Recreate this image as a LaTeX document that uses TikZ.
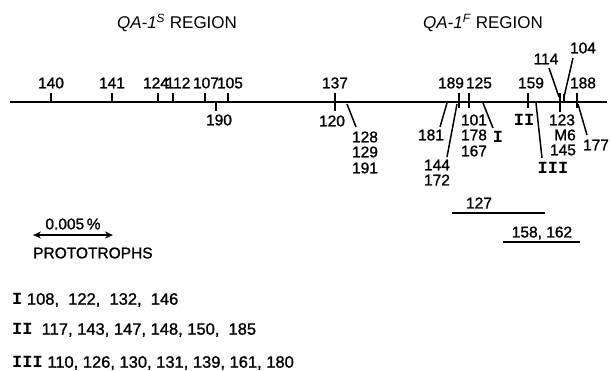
\documentclass[tikz,border=0pt]{standalone}
\usepackage{fontspec}
\setmainfont{Liberation Sans}
\newfontfamily\lblfont{Liberation Sans}[FakeBold=1.2]
\newfontfamily\romfont{Liberation Mono}
\usetikzlibrary{arrows.meta}
\newcommand{\rn}[1]{{\romfont\bfseries\fontsize{17}{17}\selectfont #1}}
\begin{document}
\begin{tikzpicture}[x=1pt,y=-1pt,
  lbl/.style={font=\lblfont\fontsize{15.5}{15.5}\selectfont, inner sep=0pt},
  lst/.style={font=\lblfont\fontsize{16.5}{16.5}\selectfont, inner sep=0pt, anchor=west},
  ttl/.style={font=\fontsize{17}{17}\selectfont, inner sep=0pt},
  axisline/.style={line width=2.8pt},
  tickmark/.style={line width=2.8pt},
  slant/.style={line width=1.5pt},
  bar/.style={line width=1.5pt}]
\useasboundingbox (0,0) rectangle (610,370);
% titles
\node[ttl] (t1) at (177,23) {\textit{QA-1}\textsuperscript{\textit{S}} REGION};
\node[ttl] (t2) at (483,23) {\textit{QA-1}\textsuperscript{\textit{F}} REGION};
% axis
\coordinate (L) at (10,102);
\coordinate (R) at (607,102);
\draw[axisline] (L) -- (R);
% ticks above with labels
\foreach \x/\n/\lx in {51/140/51,112/141/112,158/124/156,173/112/178,205/107/206,228/105/230,335/137/335,459/189/451,469/125/479,528/159/531,577/188/583} {
  \coordinate (u\n) at (\x,93);
  \coordinate (a\n) at (\x,102);
  \draw[tickmark] (u\n) -- (a\n);
  \node[lbl] (l\n) at (\lx,83) {\n};
}
% ticks below
\coordinate (b190a) at (216,102); \coordinate (b190b) at (216,111);
\draw[tickmark] (b190a) -- (b190b);
\node[lbl] (l190) at (219,120) {190};
\coordinate (b137) at (335,111);
\draw[tickmark] (a137) -- (b137);
\node[lbl] (l120) at (332,121) {120};
\coordinate (b189) at (459,108); \draw[tickmark] (a189) -- (b189);
\coordinate (b125) at (469,108); \draw[tickmark] (a125) -- (b125);
\coordinate (b159) at (528,108); \draw[tickmark] (a159) -- (b159);
\coordinate (b188) at (577,108); \draw[tickmark] (a188) -- (b188);
\coordinate (t123a) at (560,93); \coordinate (t123b) at (560,112);
\draw[tickmark] (t123a) -- (t123b);
\coordinate (t104a) at (564,94); \coordinate (t104b) at (564,102);
\draw[tickmark] (t104a) -- (t104b);
% labels below
\node[lbl] (l128) at (365,137) {128};
\node[lbl] (l129) at (365,152) {129};
\node[lbl] (l191) at (365,168) {191};
\node[lbl] (l181) at (431,135) {181};
\node[lbl] (l144) at (437,165) {144};
\node[lbl] (l172) at (437,180) {172};
\node[lbl] (l101) at (474,120) {101};
\node[lbl] (l178) at (474,135) {178};
\node[lbl] (l167) at (474,151) {167};
\node[lbl] (lI) at (498,137) {\rn{I}};
\node[lbl] (lII) at (524,120) {\rn{II}};
\node[lbl] (lIII) at (553,168) {\rn{III}};
\node[lbl] (l123) at (562,120) {123};
\node[lbl] (lM6) at (565,135) {M6};
\node[lbl] (l145) at (563,150) {145};
\node[lbl] (l177) at (596,145) {177};
\node[lbl] (l114) at (546,59) {114};
\node[lbl] (l104) at (583,48) {104};
% slanted connectors
\coordinate (s128a) at (347,104); \coordinate (s128b) at (356,127);
\draw[slant] (s128a) -- (s128b);
\coordinate (s181a) at (447,103); \coordinate (s181b) at (440,127);
\draw[slant] (s181a) -- (s181b);
\coordinate (s144a) at (457,104); \coordinate (s144b) at (447,157);
\draw[slant] (s144a) -- (s144b);
\coordinate (sIa) at (483,103); \coordinate (sIb) at (493,128);
\draw[slant] (sIa) -- (sIb);
\coordinate (sIIIa) at (536,103); \coordinate (sIIIb) at (542,158);
\draw[slant] (sIIIa) -- (sIIIb);
\coordinate (s114a) at (549,68); \coordinate (s114b) at (559,97);
\draw[slant] (s114a) -- (s114b);
\coordinate (s104a) at (573,58); \coordinate (s104b) at (564,97);
\draw[slant] (s104a) -- (s104b);
\coordinate (s177a) at (578,104); \coordinate (s177b) at (587,135);
\draw[slant] (s177a) -- (s177b);
% ranges
\node[lbl] (l127) at (479,203) {127};
\coordinate (r127a) at (452,213); \coordinate (r127b) at (545,213);
\draw[bar] (r127a) -- (r127b);
\node[lbl] (l158) at (542,233) {158, 162};
\coordinate (r158a) at (503,242); \coordinate (r158b) at (580,242);
\draw[bar] (r158a) -- (r158b);
% scale
\node[lbl] (sc) at (73,224) {0.005\,\%};
\coordinate (sca) at (33,235); \coordinate (scb) at (113,235);
\draw[bar,{Stealth[length=8pt,width=7pt]}-{Stealth[length=8pt,width=7pt]}] (sca) -- (scb);
\node[lbl,anchor=west] (proto) at (33,253) {PROTOTROPHS};
% lists
\node[lst] (g1) at (12,300) {\rn{I} 108,\ \ 122,\ \ 132,\ \ 146};
\node[lst] (g2) at (12,330) {\rn{II}\ \ 117, 143, 147, 148, 150,\ \ 185};
\node[lst] (g3) at (12,363) {\rn{III} 110, 126, 130, 131, 139, 161, 180};
\end{tikzpicture}
\end{document}
